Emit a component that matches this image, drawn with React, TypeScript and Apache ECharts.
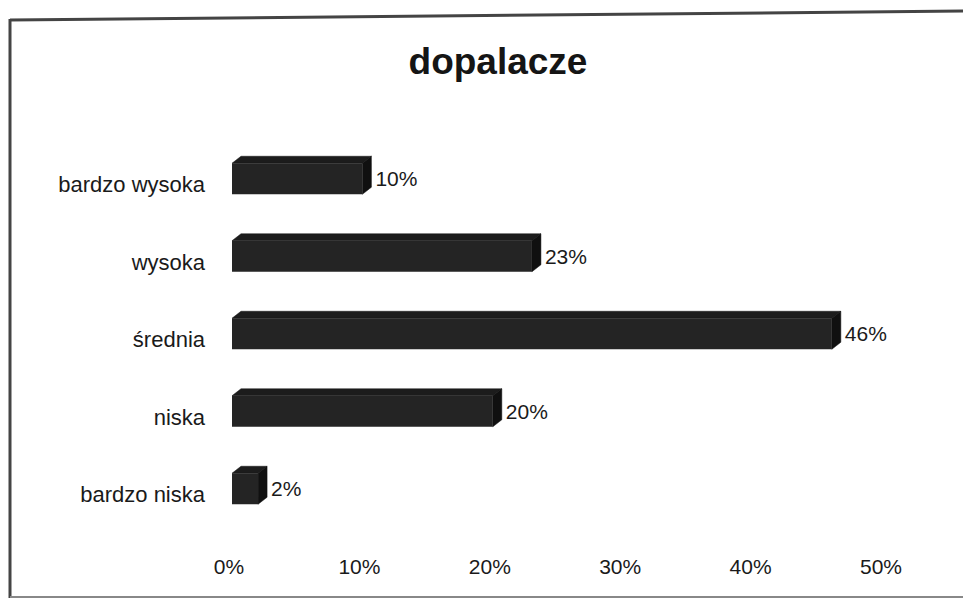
import React, { useEffect, useRef } from "react";
import * as echarts from "echarts";

const TITLE = "dopalacze";
const categories = ["bardzo niska", "niska", "średnia", "wysoka", "bardzo wysoka"];
const values = [2, 20, 46, 23, 10];
const xTicks = [0, 10, 20, 30, 40, 50];

const FONT = '"Liberation Sans", Arial, sans-serif';

export default function App() {
  const ref = useRef<HTMLDivElement>(null);
  useEffect(() => {
    if (!ref.current) return;
    const chart = echarts.init(ref.current, null, { renderer: "svg" });
    const data = values.map((v, i) => [v, i]);
    chart.setOption({
      animation: false,
      backgroundColor: "#ffffff",
      title: {
        text: TITLE,
        left: 493,
        top: 38,
        textAlign: "center",
        textStyle: { fontFamily: FONT, fontSize: 37, fontWeight: "bold", color: "#151515" },
      },
      graphic: [
        { type: "line", shape: { x1: 10, y1: 20, x2: 963, y2: 11 }, style: { stroke: "#444", lineWidth: 3 } },
        { type: "line", shape: { x1: 10, y1: 19, x2: 10, y2: 598 }, style: { stroke: "#444", lineWidth: 3 } },
        { type: "line", shape: { x1: 10, y1: 597, x2: 963, y2: 597 }, style: { stroke: "#888", lineWidth: 2 } },
      ],
      grid: { left: 229, right: 82, top: 146, bottom: 64.5 },
      xAxis: {
        type: "value",
        min: xTicks[0],
        max: xTicks[xTicks.length - 1],
        interval: 10,
        axisLine: { show: false },
        axisTick: { show: false },
        splitLine: { show: false },
        axisLabel: {
          formatter: "{value}%",
          fontFamily: FONT,
          fontSize: 21,
          color: "#1a1a1a",
          margin: 22,
        },
      },
      yAxis: {
        type: "category",
        data: categories,
        axisLine: { show: false },
        axisTick: { show: false },
        axisLabel: { fontFamily: FONT, fontSize: 22, color: "#1a1a1a", margin: 24 },
      },
      series: [
        {
          type: "custom",
          data,
          encode: { x: 0, y: 1 },
          renderItem: (params: any, api: any) => {
            const v = api.value(0);
            const cat = api.value(1);
            const start = api.coord([0, cat]);
            const end = api.coord([v, cat]);
            const h = 31;
            const dx = 9;
            const dy = 7;
            const shift = 3;
            const up = 6;
            const x0 = start[0] + shift;
            const x1 = end[0] + shift;
            const yTop = start[1] - up - h / 2;
            const yBot = yTop + h;
            return {
              type: "group",
              children: [
                {
                  type: "polygon",
                  shape: { points: [[x0, yTop], [x0 + dx, yTop - dy], [x1 + dx, yTop - dy], [x1, yTop]] },
                  style: { fill: "#1c1c1c", stroke: "#141414", lineWidth: 0.5 },
                },
                {
                  type: "polygon",
                  shape: { points: [[x1, yTop], [x1 + dx, yTop - dy], [x1 + dx, yBot - dy], [x1, yBot]] },
                  style: { fill: "#101010", stroke: "#101010", lineWidth: 0.5 },
                },
                {
                  type: "rect",
                  shape: { x: x0, y: yTop, width: x1 - x0, height: h },
                  style: { fill: "#242424" },
                },
                {
                  type: "text",
                  style: {
                    text: v + "%",
                    x: x1 + dx + 4,
                    y: yTop + h / 2,
                    fill: "#1a1a1a",
                    font: "21px " + FONT,
                    align: "left",
                    verticalAlign: "middle",
                  },
                },
              ],
            };
          },
        },
      ],
    });
    return () => chart.dispose();
  }, []);
  return (
    <div
      ref={ref}
      style={{ position: "fixed", left: 0, top: 0, width: 963, height: 598 }}
    />
  );
}
